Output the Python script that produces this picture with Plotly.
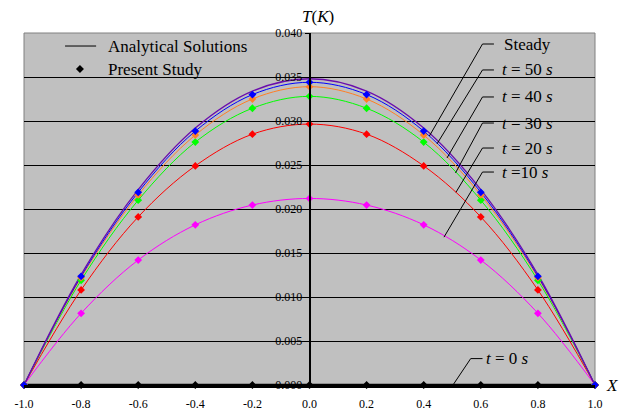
import plotly.graph_objects as go

# ---------------- data ----------------
x_pts = [-1.0, -0.8, -0.6, -0.4, -0.2, 0.0, 0.2, 0.4, 0.6, 0.8, 1.0]
x_tick_vals = [-1.0, -0.8, -0.6, -0.4, -0.2, 0.0, 0.2, 0.4, 0.6, 0.8, 1.0]
x_tick_text = ["-1.0", "-0.8", "-0.6", "-0.4", "-0.2", "0.0", "0.2", "0.4", "0.6", "0.8", "1.0"]
y_tick_vals = [0.0, 0.005, 0.010, 0.015, 0.020, 0.025, 0.030, 0.035, 0.040]
y_tick_text = ["0.000", "0.005", "0.010", "0.015", "0.020", "0.025", "0.030", "0.035", "0.040"]

steady = [0.0, 0.01255, 0.0222, 0.0292, 0.0334, 0.0348, 0.0334, 0.0292, 0.0222, 0.01255, 0.0]
t50 = [0.0, 0.01235, 0.0219, 0.02885, 0.0330, 0.0344, 0.0330, 0.02885, 0.0219, 0.01235, 0.0]
t40 = [0.0, 0.0122, 0.0216, 0.0284, 0.0325, 0.0339, 0.0325, 0.0284, 0.0216, 0.0122, 0.0]
t30 = [0.0, 0.0119, 0.0210, 0.0276, 0.03145, 0.0328, 0.03145, 0.0276, 0.0210, 0.0119, 0.0]
t20 = [0.0, 0.0108, 0.0191, 0.0249, 0.0285, 0.02965, 0.0285, 0.0249, 0.0191, 0.0108, 0.0]
t10 = [0.0, 0.00815, 0.0142, 0.0182, 0.02045, 0.0212, 0.02045, 0.0182, 0.0142, 0.00815, 0.0]
t0 = [0.0] * 11

series_names = ["t = 0 s", "t = 10 s", "t = 20 s", "t = 30 s", "t = 40 s", "t = 50 s"]
series_vals = [t0, t10, t20, t30, t40, t50]
series_cols = ["#000000", "#FF00FF", "#FF0000", "#00FF00", "#FF7F27", "#0000FF"]
steady_col = "#6A0DAD"

FONT = "Liberation Serif"

fig = go.Figure()

# analytical lines
for name, vals, col in zip(series_names, series_vals, series_cols):
    fig.add_trace(go.Scatter(x=x_pts, y=vals, mode="lines", name=name,
                             line=dict(color=col, width=2.5 if col == "#000000" else 1,
                                       shape="spline"),
                             showlegend=False, cliponaxis=False))
fig.add_trace(go.Scatter(x=x_pts, y=steady, mode="lines", name="Steady",
                         line=dict(color=steady_col, width=1.3, shape="spline"),
                         showlegend=False, cliponaxis=False))
# present study markers
for name, vals, col in zip(series_names, series_vals, series_cols):
    fig.add_trace(go.Scatter(x=x_pts, y=vals, mode="markers", name=name,
                             marker=dict(symbol="diamond", size=6, color=col),
                             showlegend=False, cliponaxis=False))

# ---------------- leader lines + labels ----------------
labels = [
    ("Steady", 0.674, 0.03875, 0.606, 0.646, 0.420, 0.0283),
    ("<i>t</i> = 50 <i>s</i>", 0.667, 0.0358, 0.606, 0.646, 0.4466, 0.0274),
    ("<i>t</i> = 40 <i>s</i>", 0.667, 0.03273, 0.606, 0.646, 0.4816, 0.0258),
    ("<i>t</i> = 30 <i>s</i>", 0.667, 0.02977, 0.606, 0.646, 0.5114, 0.0241),
    ("<i>t</i> = 20 <i>s</i>", 0.667, 0.02693, 0.606, 0.646, 0.513, 0.0219),
    ("<i>t</i> =10 <i>s</i>", 0.667, 0.0242, 0.606, 0.646, 0.471, 0.0168),
    ("<i>t</i> = 0 <i>s</i>", 0.612, 0.0030, 0.5646, 0.606, 0.5026, 0.0),
]
shapes = []
annotations = []
for txt, tx, ty, hx0, hx1, ex, ey in labels:
    shapes.append(dict(type="path", xref="x", yref="y",
                       path=f"M {hx1} {ty} L {hx0} {ty} L {ex} {ey}",
                       line=dict(color="black", width=1)))
    annotations.append(dict(x=tx, y=ty, xref="x", yref="y", text=txt, showarrow=False,
                            xanchor="left", yanchor="middle",
                            font=dict(family=FONT, size=17, color="black")))

# frame (left, top, right) in gray
shapes.append(dict(type="path", xref="paper", yref="paper",
                   path="M 0 0 L 0 1 L 1 1 L 1 0", line=dict(color="#808080", width=1),
                   layer="between"))

# manual legend
shapes.append(dict(type="line", xref="paper", yref="paper", x0=0.0719, x1=0.1263,
                   y0=0.963, y1=0.963, line=dict(color="black", width=1)))
shapes.append(dict(type="path", xref="paper", yref="paper", xsizemode="pixel", ysizemode="pixel",
                   xanchor=0.098, yanchor=0.8977, path="M 0 4 L 4 0 L 0 -4 L -4 0 Z",
                   fillcolor="black", line=dict(color="black", width=0)))
annotations.append(dict(x=0.1439, y=0.963, xref="paper", yref="paper",
                        text="Analytical Solutions", showarrow=False, xanchor="left",
                        yanchor="middle", font=dict(family=FONT, size=17, color="black")))
annotations.append(dict(x=0.1439, y=0.8977, xref="paper", yref="paper",
                        text="Present Study", showarrow=False, xanchor="left",
                        yanchor="middle", font=dict(family=FONT, size=17, color="black")))

# axis titles
annotations.append(dict(x=0.03, y=1, xref="x", yref="paper", yshift=17,
                        text="<i>T</i>(<i>K</i>)", showarrow=False, xanchor="center",
                        yanchor="middle", font=dict(family=FONT, size=17, color="black")))
annotations.append(dict(x=1.03, y=0, xref="paper", yref="y", text="<i>X</i>",
                        showarrow=False, xanchor="center", yanchor="middle",
                        font=dict(family=FONT, size=17, color="black")))

fig.update_layout(
    width=623, height=412,
    margin=dict(l=24, r=28, t=33, b=27),
    paper_bgcolor="white", plot_bgcolor="#C0C0C0",
    shapes=shapes, annotations=annotations,
    font=dict(family=FONT, size=12, color="black"),
    xaxis=dict(range=[-1, 1], tickvals=x_tick_vals, ticktext=x_tick_text,
               showgrid=False, zeroline=False, showline=True, linecolor="black",
               linewidth=2.5, ticks="", ticklabelstandoff=6, automargin=False,
               tickfont=dict(family=FONT, size=12, color="black")),
    yaxis=dict(range=[0, 0.040], tickvals=y_tick_vals, ticktext=y_tick_text,
               anchor="free", position=0.5, showgrid=True, gridcolor="#000000",
               gridwidth=1, zeroline=False, showline=True, linecolor="black",
               linewidth=1.5, ticks="outside", ticklen=4, tickcolor="black",
               automargin=False,
               tickfont=dict(family=FONT, size=12, color="black")),
)

fig.write_html("out.html")
